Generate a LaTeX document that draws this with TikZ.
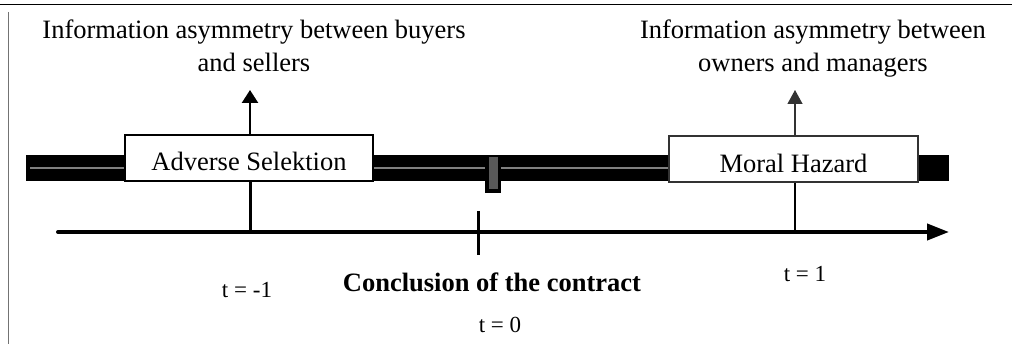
\documentclass[tikz,border=0pt]{standalone}
\usepackage{fontspec}
\setmainfont{Liberation Serif}
\usetikzlibrary{arrows.meta}
\begin{document}
\begin{tikzpicture}[x=1pt,y=-1pt,
  big/.style={font=\fontsize{26.5}{33}\selectfont},
  small/.style={font=\fontsize{23}{28}\selectfont},
  box/.style={draw, fill=white, minimum width=248pt, minimum height=46pt, inner sep=0pt, text height=25pt, text depth=0pt, big},
]
\useasboundingbox (0,0) rectangle (1012,344);
% frame
\draw[line width=1pt] (0,5) -- (1012,5);
\draw[line width=1pt, black!55] (8,12) -- (8,344);
% bar
\fill (26,155) rectangle (949,181);
\draw[black!50, line width=1.5pt] (30,168) -- (485,168);
\draw[black!50, line width=1.5pt] (501,168) -- (668,168);
% marker
\fill (485,155) rectangle (501,193);
\fill[black!65] (489,157) rectangle (498,189);
% boxes
\node[box, line width=2pt] (adv) at (249,158) {Adverse Selektion};
\node[box, line width=1.5pt, draw=black!80, minimum width=249pt, text height=27pt] (mor) at (793.5,159) {Moral Hazard};
% top texts
\node[big, align=center, anchor=north, inner sep=0pt] (infoL) at (254,20) {Information asymmetry between buyers\\and sellers};
\node[big, align=center, anchor=north, inner sep=0pt] (infoR) at (813,20) {Information asymmetry between\\owners and managers};
% arrows up
\coordinate (tipL) at (250,90);
\coordinate (tipR) at (795,90);
\draw[line width=2.5pt, -{Triangle[length=13pt,width=16pt]}] (adv.north -| tipL) -- (tipL);
\draw[line width=1.2pt, black!80, -{Triangle[length=14pt,width=15pt]}] (mor.north -| tipR) -- (tipR);
% axis
\coordinate (axL) at (58,232);
\coordinate (axR) at (949,232);
\draw[line width=4pt, line cap=round, -{Triangle[length=22pt,width=16pt]}] (axL) -- (axR);
% verticals
\draw[line width=3pt] (adv.south -| tipL) -- (tipL |- axL);
\draw[line width=1.8pt] (mor.south -| tipR) -- (tipR |- axL);
% tick
\coordinate (tickT) at (478,211);
\coordinate (tickB) at (478,255);
\draw[line width=3pt] (tickT) -- (tickB);
% labels
\node[small, anchor=base] (tm1) at (247,298) {t = -1};
\node[big, anchor=base] (concl) at (492,292) {\textbf{Conclusion of the contract}};
\node[small, anchor=base] (tz) at (500,333) {t = 0};
\node[small, anchor=base] (tp1) at (805,282) {t = 1};
\end{tikzpicture}
\end{document}
